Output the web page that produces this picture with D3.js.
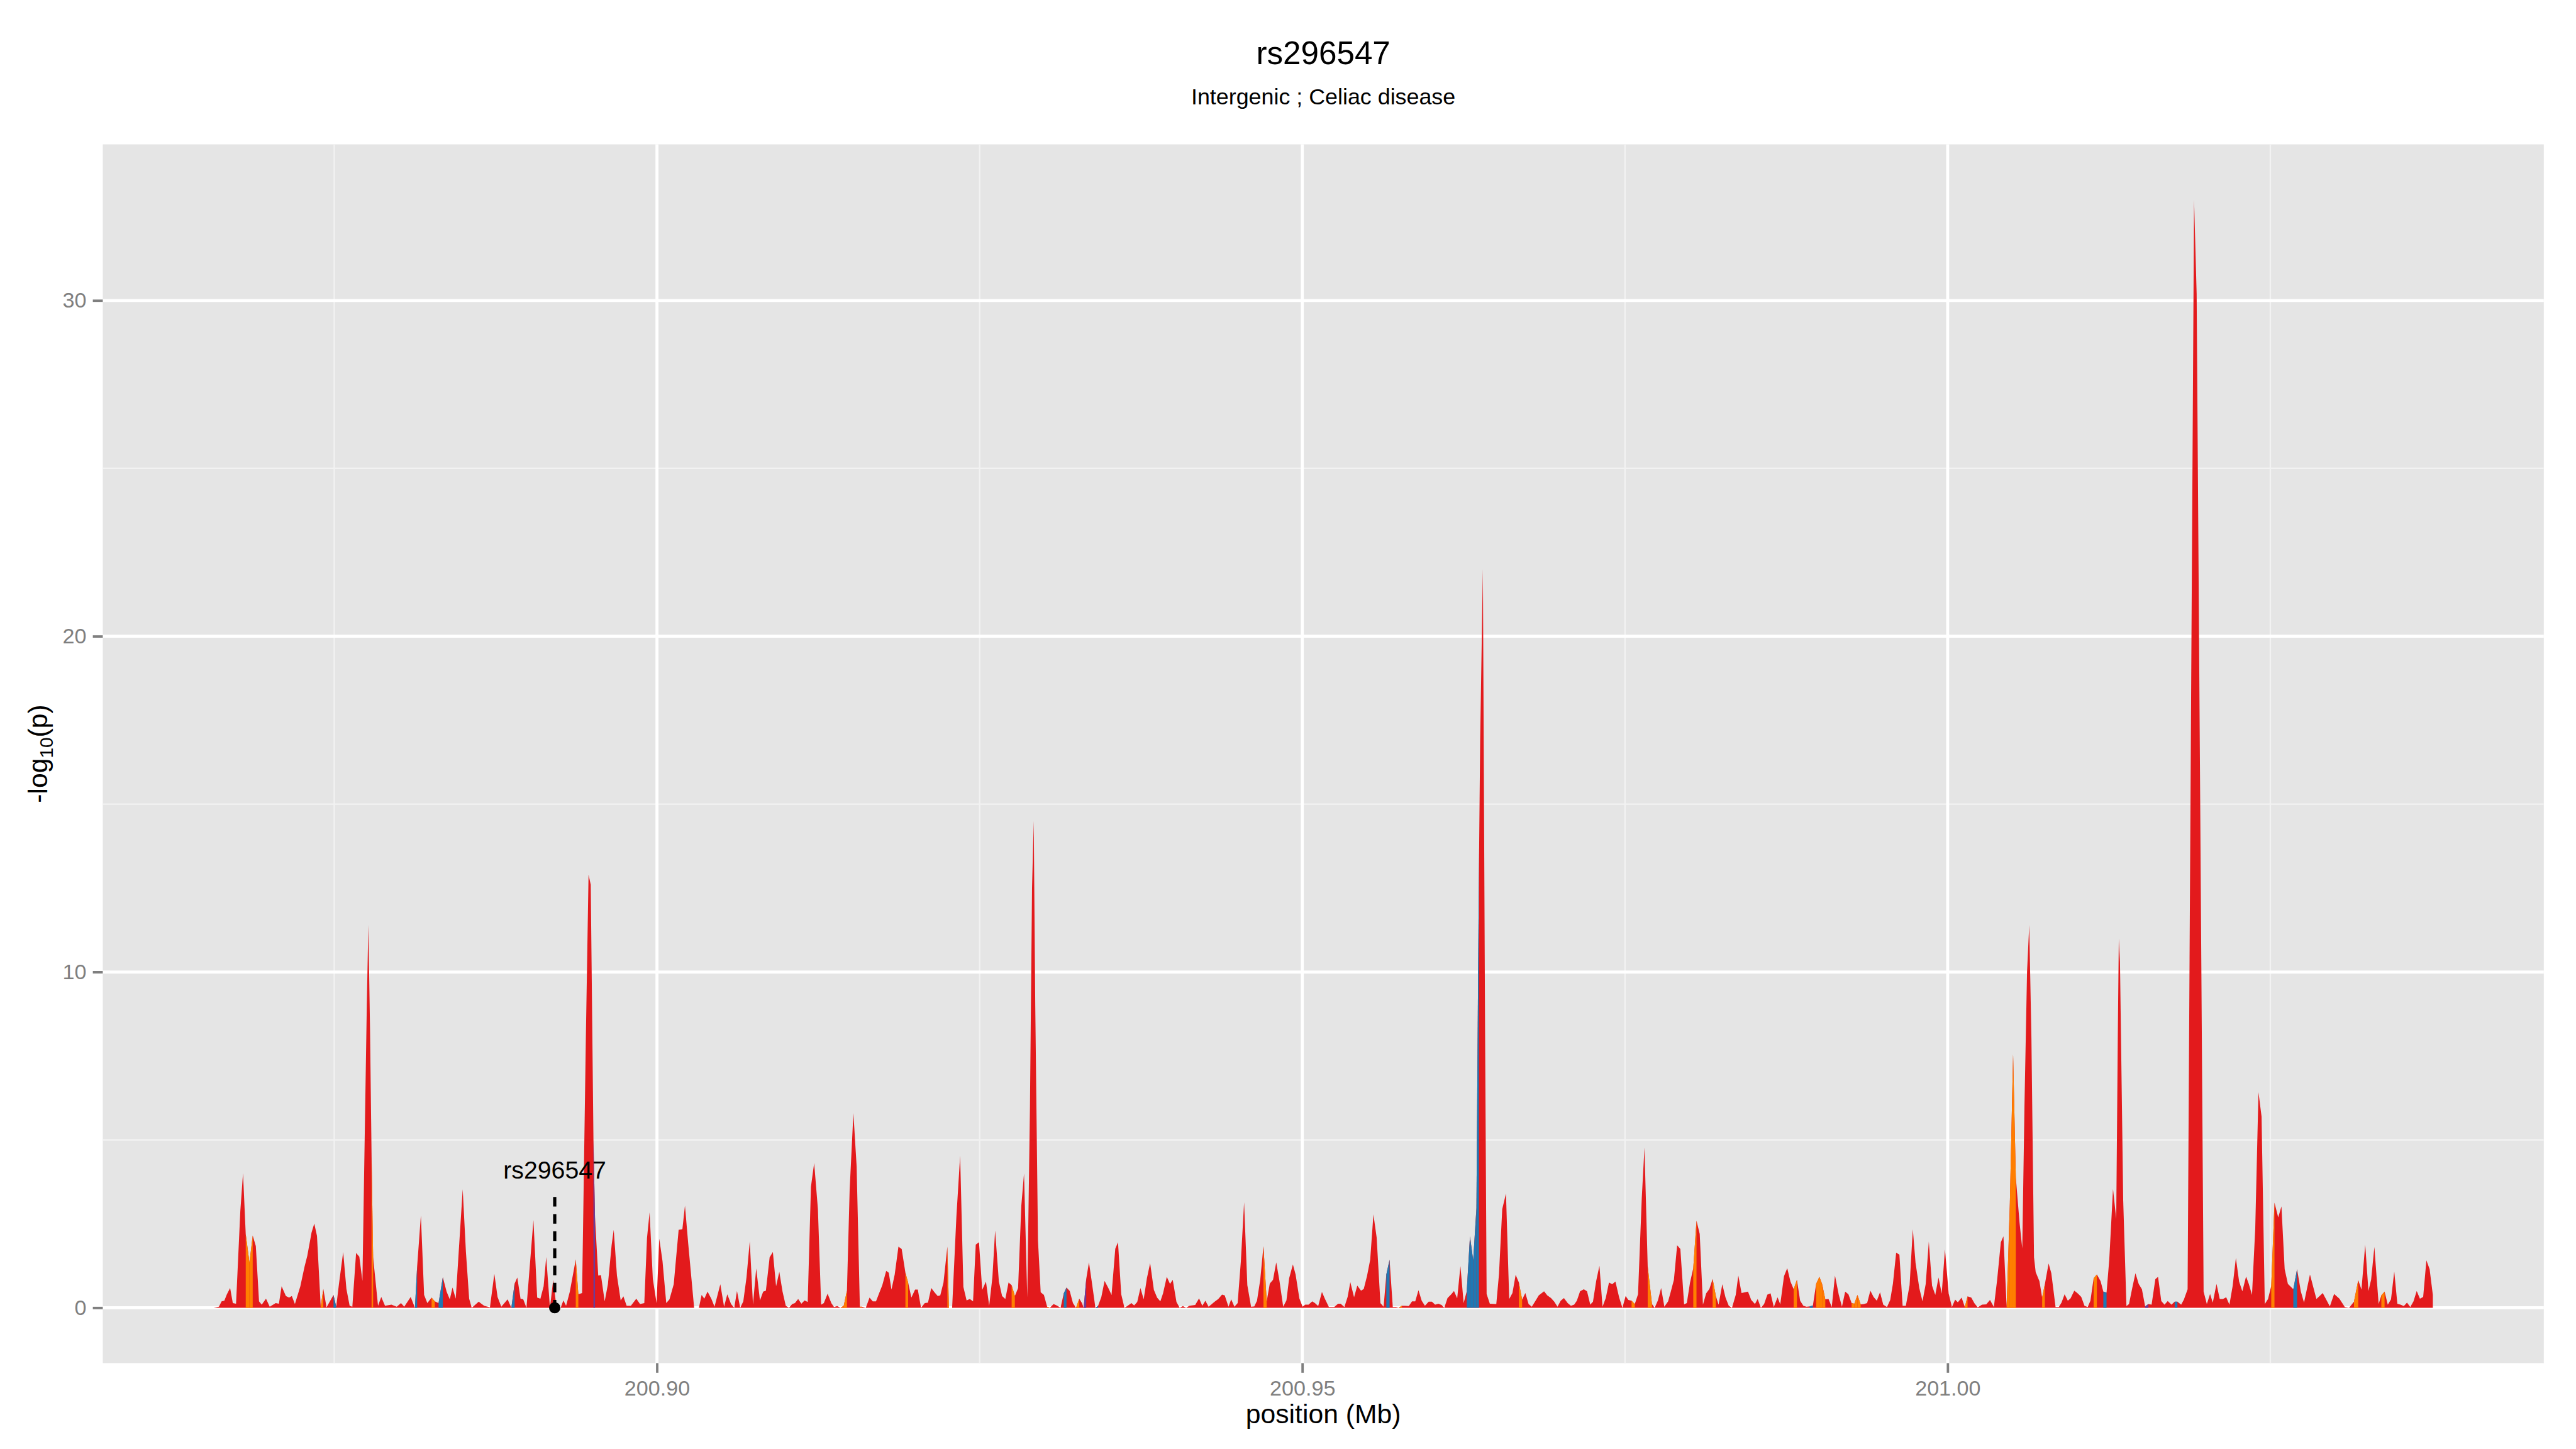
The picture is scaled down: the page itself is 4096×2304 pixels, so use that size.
<!DOCTYPE html>
<html>
<head>
<meta charset="utf-8">
<script src="https://cdn.jsdelivr.net/npm/d3@7"></script>
<style>
  html, body { margin: 0; padding: 0; background: #ffffff; }
  svg { display: block; }
</style>
</head>
<body>
<div id="chart"></div>
<script>
// ---------------- DATA ----------------
const chartTitle = "rs296547";
const chartSubtitle = "Intergenic ; Celiac disease";
const xAxisTitle = "position (Mb)";
const xTickValues = [200.90, 200.95, 201.00];
const xMinorValues = [200.875, 200.925, 200.975, 201.025];
const yTickValues = [0, 10, 20, 30];
const yMinorValues = [5, 15, 25];

// SNP positions (Mb)
const positions = [
  // 200.866 - 200.905
  200.86566,200.86606,200.86627,200.86648,200.86668,200.86693,200.86714,200.86739,200.86772,200.86793,
  200.86814,200.86843,200.86868,200.86892,200.86917,200.86938,200.86971,200.87000,200.87046,200.87071,
  200.87092,200.87125,200.87150,200.87171,200.87195,200.87237,200.87270,200.87291,200.87324,200.87345,
  200.87366,200.87395,200.87415,200.87440,200.87494,200.87515,200.87536,200.87569,200.87594,200.87619,
  200.87640,200.87669,200.87694,200.87718,200.87752,200.87764,200.87777,200.87789,200.87801,200.87839,
  200.87864,200.87893,200.87943,200.87984,200.88017,200.88042,200.88092,200.88125,200.88142,200.88171,
  200.88196,200.88221,200.88254,200.88279,200.88308,200.88341,200.88370,200.88395,200.88416,200.88441,
  200.88495,200.88520,200.88545,200.88565,200.88619,200.88661,200.88706,200.88740,200.88765,200.88794,
  200.88843,200.88872,200.88897,200.88918,200.88943,200.88964,200.88989,200.89043,200.89072,200.89097,
  200.89122,200.89142,200.89171,200.89196,200.89221,200.89254,200.89275,200.89296,200.89325,200.89371,
  200.89391,200.89420,200.89449,200.89470,200.89487,200.89508,200.89520,200.89545,200.89566,200.89595,
  200.89620,200.89649,200.89665,200.89690,200.89719,200.89740,200.89765,200.89798,200.89840,200.89869,
  200.89902,200.89923,200.89943,200.89968,200.89997,200.90018,200.90043,200.90072,200.90097,200.90130,
  200.90168,200.90197,200.90217,200.90242,200.90288,200.90325,200.90346,200.90367,200.90392,200.90421,
  200.90446,200.90491,
  // 200.905 - 200.935
  200.90520,200.90545,200.90574,200.90599,200.90620,200.90645,200.90669,200.90694,200.90719,200.90744,
  200.90769,200.90798,200.90823,200.90844,200.90873,200.90898,200.90923,200.90948,200.90973,200.90998,
  200.91023,200.91048,200.91069,200.91094,200.91119,200.91144,200.91168,200.91193,200.91218,200.91247,
  200.91272,200.91293,200.91322,200.91351,200.91372,200.91397,200.91422,200.91447,200.91472,200.91493,
  200.91522,200.91547,200.91572,200.91588,200.91618,200.91647,200.91672,200.91697,200.91721,200.91746,
  200.91776,200.91796,200.91817,200.91842,200.91871,200.91896,200.91925,200.91946,200.91971,200.92000,
  200.92021,200.92046,200.92075,200.92100,200.92125,200.92150,200.92175,200.92195,200.92220,200.92250,
  200.92262,200.92287,200.92320,200.92349,200.92374,200.92399,200.92424,200.92449,200.92470,200.92495,
  200.92520,200.92549,200.92574,200.92599,200.92620,200.92649,200.92674,200.92699,200.92724,200.92748,
  200.92773,200.92798,200.92823,200.92844,200.92869,200.92890,200.92906,200.92919,200.92931,200.92952,
  200.92973,200.92998,200.93023,200.93044,200.93073,200.93102,200.93127,200.93152,200.93173,200.93198,
  200.93223,200.93247,200.93272,200.93293,200.93306,200.93326,200.93347,200.93368,200.93397,200.93418,
  200.93443,200.93468,
  // 200.935 - 200.959
  200.93497,200.93522,200.93551,200.93572,200.93597,200.93622,200.93647,200.93676,200.93697,200.93721,
  200.93746,200.93771,200.93796,200.93821,200.93850,200.93875,200.93900,200.93921,200.93950,200.93975,
  200.93996,200.94025,200.94050,200.94075,200.94100,200.94125,200.94170,200.94200,200.94225,200.94249,
  200.94274,200.94324,200.94349,200.94378,200.94399,200.94428,200.94449,200.94474,200.94499,200.94524,
  200.94549,200.94574,200.94603,200.94628,200.94649,200.94674,200.94699,200.94724,200.94748,200.94773,
  200.94798,200.94823,200.94852,200.94877,200.94898,200.94927,200.94948,200.94977,200.95002,200.95023,
  200.95048,200.95077,200.95098,200.95123,200.95152,200.95177,200.95206,200.95247,200.95277,200.95297,
  200.95326,200.95351,200.95372,200.95401,200.95426,200.95455,200.95476,200.95501,200.95526,200.95551,
  200.95576,200.95605,200.95630,200.95651,200.95676,200.95701,200.95726,200.95746,200.95771,200.95796,
  200.95825,200.95850,200.95875,
  // 200.959 - 200.974
  200.95900,200.95925,200.95950,200.95979,200.96004,200.96029,200.96054,200.96079,200.96100,200.96125,
  200.96154,200.96175,200.96200,200.96225,200.96250,200.96274,200.96299,200.96324,200.96349,200.96362,
  200.96370,200.96378,200.96399,200.96416,200.96428,200.96453,200.96503,200.96524,200.96549,200.96578,
  200.96603,200.96628,200.96653,200.96678,200.96703,200.96728,200.96753,200.96778,200.96807,200.96832,
  200.96873,200.96898,200.96927,200.96952,200.96977,200.97002,200.97027,200.97056,200.97081,200.97106,
  200.97127,200.97152,200.97181,200.97206,200.97231,200.97252,200.97277,200.97302,200.97326,200.97351,
  200.97376,
  // 200.974 - 201.000
  200.97401,200.97426,200.97455,200.97480,200.97505,200.97526,200.97551,200.97576,200.97601,200.97630,
  200.97651,200.97676,200.97709,200.97730,200.97755,200.97780,200.97805,200.97834,200.97855,200.97879,
  200.97904,200.97929,200.97958,200.97979,200.98004,200.98029,200.98054,200.98079,200.98104,200.98129,
  200.98154,200.98179,200.98204,200.98225,200.98254,200.98279,200.98304,200.98329,200.98358,200.98378,
  200.98403,200.98453,200.98478,200.98507,200.98528,200.98553,200.98578,200.98603,200.98628,200.98653,
  200.98682,200.98703,200.98732,200.98757,200.98782,200.98807,200.98832,200.98857,200.98882,200.98906,
  200.98931,200.98956,200.98981,200.99006,200.99027,200.99052,200.99077,200.99102,200.99127,200.99156,
  200.99181,200.99206,200.99231,200.99256,200.99277,200.99301,200.99326,200.99351,200.99376,200.99401,
  200.99426,200.99451,200.99476,200.99501,200.99530,200.99555,200.99576,200.99601,200.99626,200.99651,
  200.99676,200.99705,200.99730,200.99751,200.99780,200.99805,200.99830,200.99854,200.99879,200.99904,
  200.99929,200.99954,200.99979,
  // 201.000 - 201.038
  201.00008,201.00033,201.00058,201.00079,201.00108,201.00133,201.00154,201.00183,201.00208,201.00233,
  201.00266,201.00299,201.00328,201.00358,201.00383,201.00412,201.00432,201.00457,201.00482,201.00507,
  201.00528,201.00557,201.00578,201.00595,201.00615,201.00632,201.00649,201.00669,201.00682,201.00711,
  201.00732,201.00753,201.00782,201.00803,201.00836,201.00861,201.00882,201.00906,201.00931,201.00952,
  201.00981,201.01010,201.01035,201.01060,201.01085,201.01106,201.01131,201.01156,201.01185,201.01206,
  201.01231,201.01252,201.01281,201.01306,201.01318,201.01326,201.01335,201.01360,201.01385,201.01405,
  201.01430,201.01455,201.01480,201.01505,201.01530,201.01555,201.01580,201.01609,201.01630,201.01655,
  201.01680,201.01705,201.01734,201.01759,201.01780,201.01809,201.01830,201.01859,201.01909,201.01929,
  201.01983,201.02008,201.02033,201.02054,201.02083,201.02108,201.02133,201.02158,201.02183,201.02208,
  201.02233,201.02258,201.02283,201.02312,201.02333,201.02358,201.02383,201.02408,201.02432,201.02457,
  201.02482,201.02507,201.02532,201.02561,201.02586,201.02611,201.02636,201.02678,201.02707,201.02736,
  201.02761,201.02807,201.02857,201.02906,201.02961,201.02994,201.03035,201.03077,201.03110,201.03148,
  201.03181,201.03206,201.03235,201.03260,201.03281,201.03306,201.03339,201.03360,201.03385,201.03410,
  201.03435,201.03460,201.03484,201.03509,201.03534,201.03559,201.03584,201.03609,201.03634,201.03659,
  201.03684,201.03709,201.03734,201.03759
];

// -log10(p) at each position
const logP = [
  0,0.03,0.19,0.21,0.40,0.59,0.14,0.12,2.88,4.01,
  2.19,1.34,2.15,1.84,0.19,0.09,0.27,0.03,0.14,0.12,
  0.64,0.35,0.30,0.35,0.11,0.64,1.23,1.55,2.24,2.51,
  2.14,0.03,0.56,0.01,0.38,0.03,0.70,1.66,0.56,0.06,
  0.03,1.63,1.52,0.80,9.0,11.4,8.3,4.5,1.5,0.06,
  0.32,0.06,0.09,0.03,0.14,0.03,0.32,0.0,1.23,2.75,
  0.38,0.14,0.30,0.19,0.14,0.91,0.48,0.25,0.60,0.27,
  3.53,1.66,0.27,0.0,0.18,0.06,0.01,1.01,0.32,0.03,
  0.25,0.0,0.72,0.90,0.27,0.25,0.0,2.61,0.30,0.27,
  0.64,1.51,0.0,0.83,0.03,0.0,0.22,0.06,0.48,1.44,
  0.40,0.44,8.0,12.9,12.6,5.0,2.7,0.96,0.97,0.19,
  0.70,1.87,2.32,0.96,0.22,0.34,0.06,0.06,0.27,0.11,
  0.14,2.08,2.84,0.86,0.14,2.06,1.39,0.14,0.25,0.70,
  2.32,2.34,3.04,1.92,0.0,0.0,0.38,0.27,0.48,0.27,
  0.03,0.70,
  0.03,0.40,0.11,0,0.50,0,0.19,0.91,1.98,0.09,
  1.17,0.22,0.48,0.51,1.50,1.66,0.64,1.07,0.48,0.06,
  0,0.11,0.14,0.26,0.12,0.22,0.17,3.60,4.31,2.94,
  0.09,0.14,0.42,0.14,0.02,0.05,0,0.06,0.51,3.52,
  5.80,4.21,0.03,0.03,0,0.30,0.19,0.19,0.43,0.67,
  1.10,1.04,0.54,0.99,1.82,1.75,1.04,0.75,0.30,0.54,
  0.54,0,0.14,0.15,0.59,0.46,0.35,0.37,0.75,1.82,
  0,0,2.72,4.53,0.62,0.22,0.26,0.19,1.88,1.95,
  0.53,0.78,0.06,0.91,2.30,0.78,0.35,0.26,0.75,0.67,
  0.35,0.59,3.04,4.00,0.30,6.0,12.5,14.5,9.0,2.0,
  0.46,0.38,0.03,0,0.11,0.06,0,0.43,0.60,0.50,
  0.14,0,0.27,0.14,0,0.86,1.35,0.80,0,0.06,
  0.32,0.80,
  0.59,0.38,1.76,1.95,0.40,0,0.06,0.14,0.07,0.17,
  0.59,0.25,0.88,1.33,0.53,0.30,0.19,0.43,0.92,0.71,
  0.83,0.17,0,0.05,0,0.06,0.08,0.28,0.06,0.21,
  0.03,0.19,0.26,0.39,0.37,0.03,0.25,0.03,0.14,1.39,
  3.14,0.67,0.03,0.04,0.21,0.83,1.84,0.19,0.72,0.83,
  1.35,0.80,0.03,0.22,0.88,1.29,0.99,0.28,0.03,0.09,
  0.09,0.19,0.14,0.05,0.47,0.25,0.02,0.02,0.12,0.12,
  0.02,0.32,0.76,0.31,0.66,0.51,0.56,0.94,1.43,2.78,
  2.09,0.14,0.03,0.99,1.43,0.02,0.02,0,0.06,0.06,
  0.05,0.19,0.19,
  0.52,0.21,0.06,0.18,0.18,0.09,0.12,0.08,0,0.29,
  0.40,0.50,0.28,1.24,0.14,0.49,2.13,1.41,2.97,10.0,
  13.7,16.9,22.0,8.3,0.41,0.12,0.11,1.01,2.94,3.40,
  0.26,0.44,0.98,0.75,0.24,0.44,0.11,0.03,0.21,0.37,
  0.49,0.37,0.29,0.18,0.03,0.21,0.29,0.14,0.06,0.09,
  0.21,0.49,0.55,0.49,0.09,0.18,0.80,1.25,0.03,0.29,
  0.75,
  0.70,0.78,0.30,0,0.35,0.23,0.21,0.11,0.40,3.26,
  4.77,1.23,0.11,0,0.22,0.59,0.03,0.19,0.48,0.83,
  1.86,1.75,0.10,0.14,0.75,1.18,2.59,2.20,0.09,0.43,
  0.56,0.86,0.35,0.09,0.70,0.30,0.06,0,0.38,0.96,
  0.44,0.48,0.23,0.11,0.26,0,0.11,0.39,0.43,0.02,
  0.31,0.10,0.94,1.18,0.78,0.55,0.83,0.21,0.06,0.03,
  0.04,0.07,0.71,0.92,0.71,0.25,0.26,0.02,0.96,0.39,
  0.03,0.48,0.40,0.14,0.12,0.38,0.10,0.11,0.14,0.51,
  0.32,0.21,0.46,0.09,0.02,0.23,0.72,1.64,1.58,0.06,
  0.06,0.67,2.34,1.34,0.59,0.19,0.71,1.97,0.66,0.38,
  0.90,0.42,1.74,
  0.42,0.02,0.24,0.16,0.30,0.02,0.34,0.30,0.13,0.01,
  0.09,0.10,0.23,0.02,0.82,1.95,2.13,0.02,3.14,7.55,
  3.88,2.53,1.77,6.0,10.0,11.4,8.0,1.5,1.06,0.79,
  0.30,0.70,1.32,1.03,0.02,0.02,0.15,0.40,0.21,0.28,
  0.51,0.42,0.32,0.06,0.02,0.21,0.88,0.99,0.79,0.48,
  0.45,1.43,3.54,2.65,8.0,11.0,10.3,3.2,0.05,0.11,
  0.59,1.03,0.71,0.55,0.04,0.11,0.09,0.85,0.92,0.20,
  0.09,0.20,0.09,0.18,0.18,0.09,0.24,0.55,33.0,30.2,
  0.48,0.11,0.41,0.15,0.71,0.26,0.26,0.31,0.09,0.65,
  1.48,0.78,0.49,0.93,0.71,0.38,2.36,6.42,5.69,0.11,
  0.26,0.65,3.13,2.69,3.02,1.15,0.71,0.55,1.15,0.49,
  0.15,0.99,0.26,0.44,0.04,0.41,0.27,0.02,0,0.18,
  0.82,0.54,1.88,0.50,0.84,1.81,0.11,0.37,0.48,0.09,
  0.25,1.08,0.12,0.09,0.05,0.15,0.02,0.19,0.50,0.27,
  0.32,1.41,1.15,0.38
];

// LD classes: the strip that starts at each of these positions is filled in that class colour;
// every other strip is in the default (red) class.
const orangeStarts = [
  200.86814,200.86843,200.87395,200.87789,200.88254,200.89371,
  200.91422,200.91447,200.91572,200.91925,200.92250,200.92748,200.93023,200.93247,
  200.94699,200.95746,200.96678,
  200.97551,200.97676,200.98029,200.98179,200.98807,200.98981,200.99006,200.99027,200.99256,200.99277,200.99301,
  201.00133,201.00457,201.00482,201.00507,201.00732,201.01131,201.02507,201.03148,201.03360
];
const blueStarts = [
  200.87494,200.88125,200.88308,200.88872,
  200.93152,200.93397,200.95651,
  200.96274,200.96299,200.96324,200.96349,200.96362,
  200.98931,201.01206,201.01759,201.02678
];
const purpleStarts = [200.89508, 200.93306, 201.01530];

const classColors = { red: "#E31A1C", orange: "#FF7F00", blue: "#1F78B4", purple: "#6A3D9A" };

// annotated SNP
const snpName = "rs296547";
const snpPos = 200.89208;
const snpLineTop = 3.3;
const snpLabelLevel = 4.1;

// ---------------- LAYOUT (reference pixel space, scaled by viewBox) ----------------
const W = 4800, H = 2700;
const panel = { left: 191.5, right: 4740, top: 269, bottom: 2540 };
const FONT = "'Liberation Sans', Arial, Helvetica, sans-serif";
const grey50 = "#7F7F7F";

const n = Math.min(positions.length, logP.length);
const data = [];
for (let i = 0; i < n; i++) data.push({ pos: positions[i], v: logP[i] });
const oSet = new Set(orangeStarts), bSet = new Set(blueStarts), pSet = new Set(purpleStarts);
data.forEach(d => {
  d.cls = oSet.has(d.pos) ? "orange" : bSet.has(d.pos) ? "blue" : pSet.has(d.pos) ? "purple" : "red";
});

const xExt = d3.extent(data, d => d.pos);
const xPad = (xExt[1] - xExt[0]) * 0.05;
const yMax = d3.max(data, d => d.v);
const yPad = yMax * 0.05;

const x = d3.scaleLinear().domain([xExt[0] - xPad, xExt[1] + xPad]).range([panel.left, panel.right]);
const y = d3.scaleLinear().domain([0 - yPad, yMax + yPad]).range([panel.bottom, panel.top]);

const svg = d3.select("#chart").append("svg")
  .attr("width", 4096).attr("height", 2304)
  .attr("viewBox", `0 0 ${W} ${H}`)
  .style("font-family", FONT);

svg.append("rect").attr("width", W).attr("height", H).attr("fill", "#ffffff");

// panel background
svg.append("rect")
  .attr("x", panel.left).attr("y", panel.top)
  .attr("width", panel.right - panel.left).attr("height", panel.bottom - panel.top)
  .attr("fill", "#E5E5E5");

const grid = svg.append("g");
// minor grid
grid.selectAll("line.xminor").data(xMinorValues).join("line")
  .attr("x1", d => x(d)).attr("x2", d => x(d)).attr("y1", panel.top).attr("y2", panel.bottom)
  .attr("stroke", "#F2F2F2").attr("stroke-width", 2.8);
grid.selectAll("line.yminor").data(yMinorValues).join("line")
  .attr("y1", d => y(d)).attr("y2", d => y(d)).attr("x1", panel.left).attr("x2", panel.right)
  .attr("stroke", "#F2F2F2").attr("stroke-width", 2.8);
// major grid
grid.selectAll("line.xmajor").data(xTickValues).join("line")
  .attr("x1", d => x(d)).attr("x2", d => x(d)).attr("y1", panel.top).attr("y2", panel.bottom)
  .attr("stroke", "#FFFFFF").attr("stroke-width", 5.6);
grid.selectAll("line.ymajor").data(yTickValues).join("line")
  .attr("y1", d => y(d)).attr("y2", d => y(d)).attr("x1", panel.left).attr("x2", panel.right)
  .attr("stroke", "#FFFFFF").attr("stroke-width", 5.6);

// area (red base)
const area = d3.area().x(d => x(d.pos)).y0(y(0)).y1(d => y(d.v)).curve(d3.curveLinear);
const plot = svg.append("g");
plot.append("path").datum(data).attr("d", area).attr("fill", classColors.red);

// coloured strips for other LD classes
const strips = [];
for (let i = 0; i < data.length - 1; i++) {
  if (data[i].cls !== "red") strips.push({ pts: [data[i], data[i + 1]], cls: data[i].cls });
}
plot.selectAll("path.strip").data(strips).join("path")
  .attr("class", "strip")
  .attr("d", s => area(s.pts))
  .attr("fill", s => classColors[s.cls]);

// annotation
const ann = svg.append("g");
ann.append("line")
  .attr("x1", x(snpPos)).attr("x2", x(snpPos))
  .attr("y1", y(snpLineTop)).attr("y2", y(0))
  .attr("stroke", "#000").attr("stroke-width", 6).attr("stroke-dasharray", "18,14");
ann.append("circle").attr("cx", x(snpPos)).attr("cy", y(0)).attr("r", 10.5).attr("fill", "#000");
ann.append("text")
  .attr("x", x(snpPos)).attr("y", y(snpLabelLevel)).attr("dy", "0.35em")
  .attr("text-anchor", "middle").attr("font-size", 46).attr("fill", "#000")
  .text(snpName);

// axes
const xAxis = d3.axisBottom(x).tickValues(xTickValues).tickFormat(d3.format(".2f"))
  .tickSize(18).tickPadding(14);
const gx = svg.append("g").attr("transform", `translate(0,${panel.bottom})`).call(xAxis);
gx.attr("font-size", 40).attr("font-family", FONT);
gx.select(".domain").remove();
gx.selectAll(".tick line").attr("stroke", grey50).attr("stroke-width", 4.5);
gx.selectAll(".tick text").attr("fill", grey50);

const yAxis = d3.axisLeft(y).tickValues(yTickValues).tickFormat(d3.format("d"))
  .tickSize(18.5).tickPadding(12);
const gy = svg.append("g").attr("transform", `translate(${panel.left},0)`).call(yAxis);
gy.attr("font-size", 40).attr("font-family", FONT);
gy.select(".domain").remove();
gy.selectAll(".tick line").attr("stroke", grey50).attr("stroke-width", 4.5);
gy.selectAll(".tick text").attr("fill", grey50);

const midX = (panel.left + panel.right) / 2;
const midY = (panel.top + panel.bottom) / 2;

// titles
svg.append("text").attr("x", midX).attr("y", 120).attr("text-anchor", "middle")
  .attr("font-size", 60).attr("fill", "#000").text(chartTitle);
svg.append("text").attr("x", midX).attr("y", 195).attr("text-anchor", "middle")
  .attr("font-size", 42).attr("fill", "#000").text(chartSubtitle);

svg.append("text").attr("x", midX).attr("y", 2652).attr("text-anchor", "middle")
  .attr("font-size", 50).attr("fill", "#000").text(xAxisTitle);

const yt = svg.append("text")
  .attr("transform", `translate(88,${midY}) rotate(-90)`)
  .attr("text-anchor", "middle").attr("font-size", 50).attr("fill", "#000");
yt.append("tspan").text("-log");
yt.append("tspan").attr("font-size", 35).attr("dy", 10).text("10");
yt.append("tspan").attr("dy", -10).text("(p)");
</script>
</body>
</html>
